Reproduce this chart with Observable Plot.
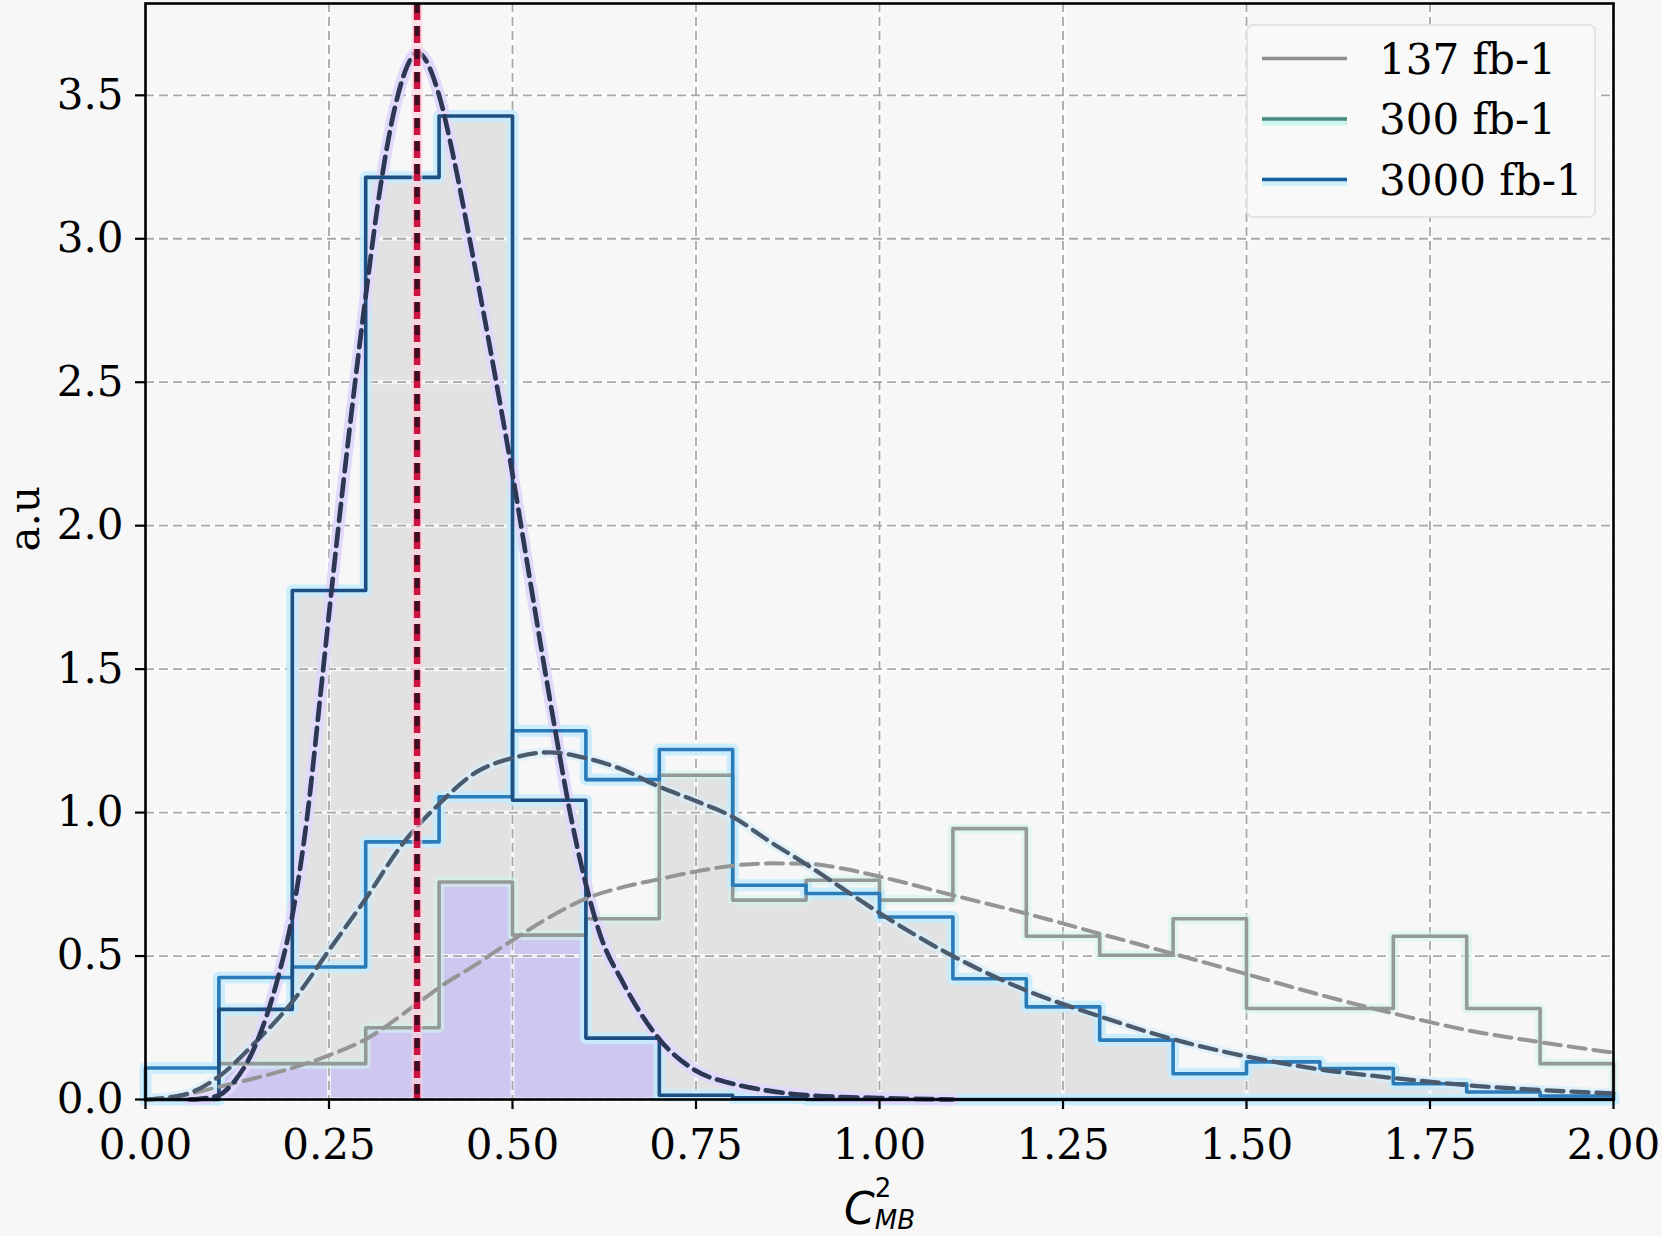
<!DOCTYPE html>
<html>
<head>
<meta charset="utf-8">
<script src="https://cdn.jsdelivr.net/npm/d3@7"></script>
<script src="https://cdn.jsdelivr.net/npm/@observablehq/plot@0.6"></script>
<style>
  html, body { margin: 0; padding: 0; background: #f7f7f7; overflow: hidden; }
  #chart svg { display: block; }
</style>
</head>
<body>
<div id="chart"></div>
<script>
// ---------- data ----------
const binStarts = [0.0, 0.1, 0.2, 0.3, 0.4, 0.5, 0.6, 0.7, 0.8, 0.9, 1.0, 1.1, 1.2, 1.3, 1.4, 1.5, 1.6, 1.7, 1.8, 1.9];
const binWidth = 0.1;

// histogram heights (a.u.) per bin
const hist137  = [0.0, 0.125, 0.125, 0.25, 0.758, 0.573, 0.63, 1.13, 0.695, 0.764, 0.695, 0.944, 0.569, 0.503, 0.63, 0.317, 0.317, 0.569, 0.317, 0.125];
const hist300  = [0.11, 0.425, 0.462, 0.898, 1.055, 1.285, 1.115, 1.22, 0.747, 0.718, 0.636, 0.421, 0.323, 0.207, 0.09, 0.131, 0.108, 0.055, 0.026, 0.012];
const hist3000 = [0.0, 0.314, 1.774, 3.214, 3.428, 1.043, 0.214, 0.015, 0.006, 0, 0, 0, 0, 0, 0, 0, 0, 0, 0, 0];

// fitted curves
const fit3000X = [0.06, 0.08, 0.10, 0.12, 0.15, 0.18, 0.20, 0.22, 0.24, 0.26, 0.28, 0.30, 0.32, 0.34, 0.36, 0.37, 0.38, 0.40, 0.42, 0.44, 0.46, 0.48, 0.50, 0.52, 0.54, 0.56, 0.58, 0.60, 0.62, 0.65, 0.70, 0.75, 0.80, 0.85, 0.90, 1.00, 1.10];
const fit3000Y = [0.0, 0.004, 0.015, 0.06, 0.19, 0.42, 0.64, 0.98, 1.45, 1.93, 2.38, 2.80, 3.18, 3.46, 3.62, 3.65, 3.63, 3.50, 3.28, 3.02, 2.75, 2.47, 2.18, 1.87, 1.56, 1.26, 0.98, 0.75, 0.57, 0.41, 0.21, 0.10, 0.055, 0.03, 0.015, 0.005, 0.0];

const fit300X = [0.0, 0.05, 0.10, 0.15, 0.20, 0.25, 0.30, 0.35, 0.40, 0.45, 0.50, 0.55, 0.60, 0.65, 0.70, 0.75, 0.80, 0.85, 0.90, 0.95, 1.00, 1.10, 1.20, 1.30, 1.40, 1.50, 1.60, 1.70, 1.80, 1.90, 2.00];
const fit300Y = [0.0, 0.015, 0.08, 0.20, 0.34, 0.52, 0.70, 0.89, 1.03, 1.14, 1.19, 1.21, 1.19, 1.15, 1.09, 1.04, 0.985, 0.90, 0.82, 0.735, 0.65, 0.50, 0.38, 0.29, 0.21, 0.15, 0.105, 0.075, 0.05, 0.033, 0.021];

const fit137X = [0.0, 0.05, 0.10, 0.15, 0.20, 0.25, 0.30, 0.37, 0.40, 0.45, 0.50, 0.55, 0.60, 0.65, 0.70, 0.75, 0.80, 0.85, 0.90, 0.95, 1.00, 1.10, 1.20, 1.30, 1.40, 1.50, 1.60, 1.70, 1.80, 1.90, 2.00];
const fit137Y = [0.0, 0.015, 0.044, 0.075, 0.11, 0.154, 0.21, 0.334, 0.39, 0.47, 0.555, 0.635, 0.70, 0.74, 0.768, 0.795, 0.815, 0.823, 0.822, 0.805, 0.777, 0.712, 0.648, 0.578, 0.508, 0.437, 0.365, 0.30, 0.242, 0.20, 0.163];

const markerX = [0.37];

const xTicks = [0, 0.25, 0.5, 0.75, 1.0, 1.25, 1.5, 1.75, 2.0];
const yTicks = [0, 0.5, 1.0, 1.5, 2.0, 2.5, 3.0, 3.5];
const legendLabels = ["137 fb-1", "300 fb-1", "3000 fb-1"];

// ---------- helpers ----------
const r2 = v => Math.round(v * 100) / 100;
function outline(vals) {
  const pts = [{x: binStarts[0], y: 0}];
  vals.forEach((v, i) => {
    pts.push({x: binStarts[i], y: v});
    pts.push({x: r2(binStarts[i] + binWidth), y: v});
  });
  pts.push({x: r2(binStarts[binStarts.length - 1] + binWidth), y: 0});
  return pts;
}
const pairs = (xs, ys) => xs.map((x, i) => ({x, y: ys[i]}));

const minAll = binStarts.map((_, i) => Math.min(hist137[i], hist300[i], hist3000[i]));
const greyArea = binStarts.map((_, i) => Math.max(hist3000[i], Math.min(hist137[i], hist300[i])));

const o137 = outline(hist137), o300 = outline(hist300), o3000 = outline(hist3000);
const f137 = pairs(fit137X, fit137Y), f300 = pairs(fit300X, fit300Y), f3000 = pairs(fit3000X, fit3000Y);

const col137 = "#949a97", col300 = "#2b7bb8", col3000 = "#1d4f82";
const dash = "17,8";

const chart = Plot.plot({
  width: 1662,
  height: 1236,
  marginLeft: 145,
  marginRight: 49,
  marginTop: 3,
  marginBottom: 137,
  x: {domain: [0, 2]},
  y: {domain: [0, 3.82]},
  style: {background: "#f7f7f7", fontFamily: "'DejaVu Serif', serif", fontSize: "42px", color: "#000", overflow: "visible"},
  marks: [
    // fills
    Plot.areaY(outline(greyArea), {x: "x", y1: 0, y2: "y", fill: "#e2e2e2", curve: "linear"}),
    Plot.areaY(outline(minAll), {x: "x", y1: 0, y2: "y", fill: "#cec8f0", curve: "linear"}),
    // grid
    Plot.gridX({ticks: xTicks, stroke: "#ffffff", strokeOpacity: 0.7, strokeWidth: 4}),
    Plot.gridY({ticks: yTicks, stroke: "#ffffff", strokeOpacity: 0.7, strokeWidth: 4}),
    Plot.gridX({ticks: xTicks, stroke: "#a8a8a8", strokeOpacity: 1, strokeWidth: 1.8, strokeDasharray: "9,5"}),
    Plot.gridY({ticks: yTicks, stroke: "#a8a8a8", strokeOpacity: 1, strokeWidth: 1.8, strokeDasharray: "9,5"}),
    // glows
    Plot.line(o137, {x: "x", y: "y", stroke: "#d3f5ec", strokeWidth: 10, strokeOpacity: 0.6, curve: "linear"}),
    Plot.line(o300, {x: "x", y: "y", stroke: "#c6ebfb", strokeWidth: 12, strokeOpacity: 0.9, curve: "linear"}),
    Plot.line(o3000, {x: "x", y: "y", stroke: "#c6ebfb", strokeWidth: 12, strokeOpacity: 0.9, curve: "linear"}),
    Plot.line(f300, {x: "x", y: "y", stroke: "#d6eefa", strokeWidth: 10, strokeOpacity: 0.7, curve: "monotone-x"}),
    Plot.line(f3000, {x: "x", y: "y", stroke: "#e0d9fb", strokeWidth: 12, curve: "monotone-x"}),
    // histogram outlines
    Plot.line(o137, {x: "x", y: "y", stroke: col137, strokeWidth: 3.6, curve: "linear"}),
    Plot.line(o300, {x: "x", y: "y", stroke: col300, strokeWidth: 3.6, curve: "linear"}),
    Plot.line(o3000, {x: "x", y: "y", stroke: col3000, strokeWidth: 3.6, curve: "linear"}),
    // fitted curves
    Plot.line(f137, {x: "x", y: "y", stroke: "#959595", strokeWidth: 4, strokeDasharray: dash, curve: "monotone-x"}),
    Plot.line(f300, {x: "x", y: "y", stroke: "#4b5b6d", strokeWidth: 4.3, strokeDasharray: dash, curve: "monotone-x"}),
    Plot.line(f3000, {x: "x", y: "y", stroke: "#2c3754", strokeWidth: 4.7, strokeDasharray: dash, curve: "monotone-x"}),
    // marker line
    Plot.ruleX(markerX, {stroke: "#ffd0dc", strokeWidth: 11, strokeOpacity: 0.6}),
    Plot.ruleX(markerX, {stroke: "#cc1240", strokeWidth: 6.5, strokeDasharray: "17,6"}),
    Plot.ruleX(markerX, {stroke: "#3a0f22", strokeWidth: 5, strokeDasharray: "10,13"}),
    // frame & axes
    Plot.frame({stroke: "#000", strokeWidth: 2.6}),
    Plot.axisX({ticks: xTicks, tickFormat: d => d.toFixed(2), tickSize: 10, tickPadding: 20, strokeWidth: 2.2, fontSize: 42, label: null}),
    Plot.axisY({ticks: yTicks, tickFormat: d => d.toFixed(1), tickSize: 10, tickPadding: 12, strokeWidth: 2.2, fontSize: 42, label: null}),
    Plot.text(["a.u"], {text: d => d, frameAnchor: "left", dx: -120, rotate: -90, fontSize: 42})
  ]
});

document.getElementById("chart").appendChild(chart);

const svg = d3.select(chart);

// x-axis label C^2_MB (mathtext style)
const xl = svg.append("text")
  .attr("x", 844).attr("y", 1224)
  .attr("text-anchor", "start")
  .attr("font-family", "'DejaVu Sans', sans-serif")
  .attr("font-size", 44).attr("fill", "#000");
xl.append("tspan").attr("font-style", "italic").text("C");
xl.append("tspan").attr("font-size", 26).attr("dy", -27).attr("dx", 0).text("2");
xl.append("tspan").attr("font-size", 26).attr("font-style", "italic").attr("dy", 32).attr("dx", -16.5).text("MB");

// legend
const lg = svg.append("g").attr("text-anchor", "start");
lg.append("rect").attr("x", 1247).attr("y", 25).attr("width", 348).attr("height", 192)
  .attr("rx", 6).attr("fill", "#f9f9f9").attr("stroke", "#e3e3e3").attr("stroke-width", 2);
const legCols = ["#8f8f8f", "#4a8a7c", "#1a5e9e"];
const legGlow = [null, "#cdf4ee", "#d0f1fb"];
legendLabels.forEach((lab, i) => {
  const y = 58.5 + 60.5 * i;
  if (legGlow[i]) {
    lg.append("line").attr("x1", 1262).attr("x2", 1347).attr("y1", y + 2).attr("y2", y + 2)
      .attr("stroke", legGlow[i]).attr("stroke-width", 9);
  }
  lg.append("line").attr("x1", 1262).attr("x2", 1347).attr("y1", y).attr("y2", y)
    .attr("stroke", legCols[i]).attr("stroke-width", 3.4);
  lg.append("text").attr("x", 1379).attr("y", y + 15)
    .attr("text-anchor", "start")
    .attr("font-family", "'DejaVu Serif', serif").attr("font-size", 42).attr("fill", "#000")
    .text(lab);
});
</script>
</body>
</html>
